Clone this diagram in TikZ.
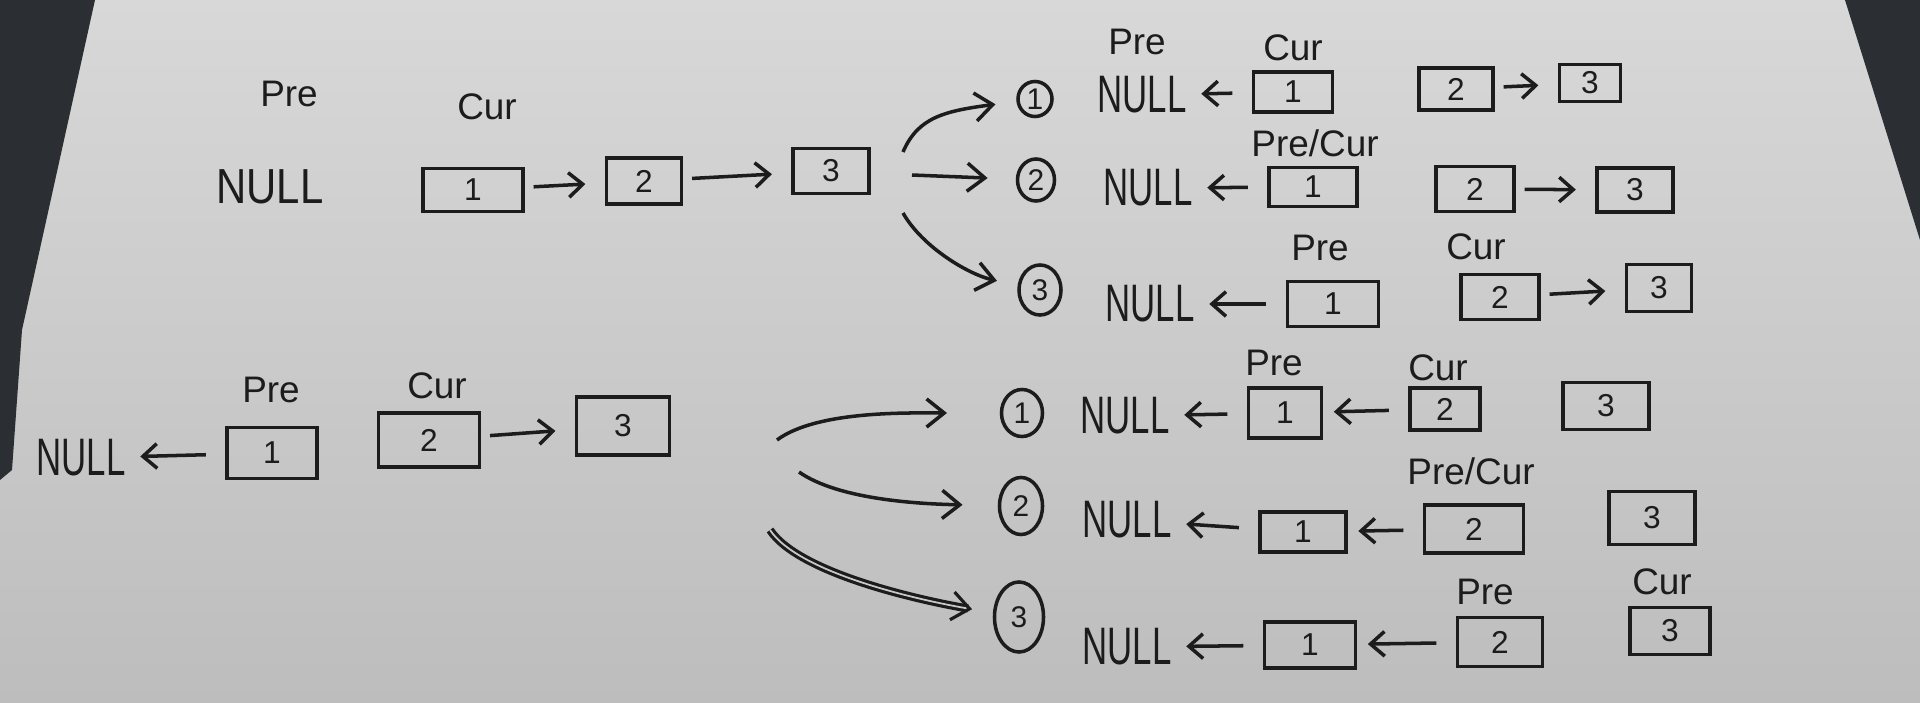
\documentclass[tikz,border=0pt]{standalone}
\usepackage{fontspec}
\usepackage{tikz}
\usetikzlibrary{shapes.geometric, arrows.meta, positioning}
\setmainfont{Liberation Sans}
\newfontfamily\handnarrow[FakeStretch=0.66]{Liberation Sans}
\newfontfamily\handwide[FakeStretch=0.85]{Liberation Sans}
\definecolor{myink}{HTML}{1C1C1C}
\definecolor{mypaper}{HTML}{D8D8D8}
\definecolor{mypaperdark}{HTML}{BDBDBD}
\definecolor{mydesk}{HTML}{2B2E33}
\tikzstyle{arrow} = [line width=1pt, draw=myink, -{Straight Barb[length=4pt, width=7pt]}, shorten <=2.5pt, shorten >=5.5pt]
\tikzstyle{backarrow} = [line width=1pt, draw=myink, -{Straight Barb[length=4pt, width=7pt]}, shorten <=5.5pt, shorten >=3pt]
\tikzstyle{bendarrow} = [line width=1pt, draw=myink, -{Straight Barb[length=5pt, width=8pt]}]
\tikzstyle{lbl} = [inner sep=1pt, text=myink, font=\fontsize{10.5}{12}\selectfont]
\tikzstyle{nullnode} = [inner sep=1pt, text=myink, font=\handnarrow\fontsize{15}{15}\selectfont]

\begin{document}
\begin{tikzpicture}[x=0.01cm, y=-0.01cm, box/.style 2 args={draw=myink, line width=1pt, minimum width=#1cm, minimum height=#2cm, inner sep=0pt, text=myink, font=\fontsize{9}{9}\selectfont}, stepnum/.style 2 args={ellipse, draw=myink, line width=1pt, minimum width=#1cm, minimum height=#2cm, inner sep=0pt, text=myink, font=\fontsize{8.5}{8.5}\selectfont}]
    \useasboundingbox (0,0) rectangle (1920,703);
    \shade[top color=mypaper, bottom color=mypaperdark] (0,0) rectangle (1920,703);
    \fill[mydesk] (0,0) -- (95,0) -- (22,330) -- (12,470) -- (0,480) -- cycle;
    \fill[mydesk] (1845,0) -- (1920,0) -- (1920,240) -- cycle;

    \node[lbl] (tlpre) at (289,94) {Pre};
    \node[lbl] (tlcur) at (487,107) {Cur};
    \node[nullnode, font=\handwide\fontsize{14}{14}\selectfont] (tlnull) at (270,187) {NULL};
    \node[box={1.0}{0.43}] (tl1) at (473,190) {1};
    \node[box={0.75}{0.46}] (tl2) at (644,181) {2};
    \node[box={0.76}{0.45}] (tl3) at (831,171) {3};
    \draw[arrow] (tl1) -- (tl2); \draw[arrow] (tl2) -- (tl3);
    \coordinate (tla) at (903,152); \coordinate (tlb) at (912,175); \coordinate (tlc) at (903,213);

    \node[stepnum={0.34}{0.35}] (c1) at (1035,99) {1};
    \node[lbl] (r1pre) at (1137,42) {Pre};
    \node[lbl] (r1cur) at (1293,48) {Cur};
    \node[nullnode] (r1null) at (1142,95) {NULL};
    \node[box={0.79}{0.40}] (r1b1) at (1293,92) {1};
    \node[box={0.74}{0.42}] (r1b2) at (1456,89) {2};
    \node[box={0.61}{0.37}] (r1b3) at (1590,83) {3};
    \draw[backarrow] (r1b1) -- (r1null); \draw[arrow] (r1b2) -- (r1b3);

    \node[stepnum={0.37}{0.42}] (c2) at (1036,180) {2};
    \node[lbl] (r2pc) at (1315,143) {Pre/Cur};
    \node[nullnode] (r2null) at (1148,188) {NULL};
    \node[box={0.88}{0.39}] (r2b1) at (1313,187) {1};
    \node[box={0.78}{0.45}] (r2b2) at (1475,189) {2};
    \node[box={0.76}{0.44}] (r2b3) at (1635,190) {3};
    \draw[backarrow] (r2b1) -- (r2null); \draw[arrow] (r2b2) -- (r2b3);

    \node[stepnum={0.42}{0.50}] (c3) at (1040,290) {3};
    \node[lbl] (r3pre) at (1320,248) {Pre};
    \node[lbl] (r3cur) at (1476,247) {Cur};
    \node[nullnode] (r3null) at (1150,304) {NULL};
    \node[box={0.91}{0.45}] (r3b1) at (1333,304) {1};
    \node[box={0.78}{0.45}] (r3b2) at (1500,297) {2};
    \node[box={0.65}{0.47}] (r3b3) at (1659,288) {3};
    \draw[backarrow] (r3b1) -- (r3null); \draw[arrow] (r3b2) -- (r3b3);

    \draw[bendarrow, shorten >=6pt] (tla) .. controls +(15,-35) and +(-90,12) .. (c1);
    \draw[bendarrow, shorten >=8pt] (tlb) -- (c2);
    \draw[bendarrow, shorten >=6pt] (tlc) .. controls +(20,35) and +(-70,-15) .. (c3);

    \node[lbl] (blpre) at (271,390) {Pre};
    \node[lbl] (blcur) at (437,386) {Cur};
    \node[nullnode] (blnull) at (81,458) {NULL};
    \node[box={0.90}{0.51}] (bl1) at (272,453) {1};
    \node[box={1.01}{0.54}] (bl2) at (429,440) {2};
    \node[box={0.93}{0.58}] (bl3) at (623,426) {3};
    \draw[backarrow] (bl1) -- (blnull); \draw[arrow] (bl2) -- (bl3);
    \coordinate (bla) at (777,440); \coordinate (blb) at (799,472); \coordinate (blc) at (770,530);

    \node[stepnum={0.41}{0.47}] (d1) at (1022,413) {1};
    \node[lbl] (s1pre) at (1274,363) {Pre};
    \node[lbl] (s1cur) at (1438,368) {Cur};
    \node[nullnode] (s1null) at (1125,416) {NULL};
    \node[box={0.73}{0.50}] (s1b1) at (1285,413) {1};
    \node[box={0.70}{0.42}] (s1b2) at (1445,409) {2};
    \node[box={0.86}{0.47}] (s1b3) at (1606,406) {3};
    \draw[backarrow] (s1b1) -- (s1null); \draw[backarrow] (s1b2) -- (s1b1);

    \node[stepnum={0.43}{0.57}] (d2) at (1021,506) {2};
    \node[lbl] (s2pc) at (1471,471) {Pre/Cur};
    \node[nullnode] (s2null) at (1127,520) {NULL};
    \node[box={0.86}{0.40}] (s2b1) at (1303,532) {1};
    \node[box={0.99}{0.48}] (s2b2) at (1474,529) {2};
    \node[box={0.86}{0.53}] (s2b3) at (1652,518) {3};
    \draw[backarrow] (s2b1) -- (s2null); \draw[backarrow] (s2b2) -- (s2b1);

    \node[stepnum={0.49}{0.70}] (d3) at (1019,617) {3};
    \node[lbl] (s3pre) at (1485,592) {Pre};
    \node[lbl] (s3cur) at (1662,582) {Cur};
    \node[nullnode] (s3null) at (1127,647) {NULL};
    \node[box={0.91}{0.46}] (s3b1) at (1310,645) {1};
    \node[box={0.85}{0.49}] (s3b2) at (1500,642) {2};
    \node[box={0.80}{0.47}] (s3b3) at (1670,631) {3};
    \draw[backarrow] (s3b1) -- (s3null); \draw[backarrow] (s3b2) -- (s3b1);

    \draw[bendarrow, shorten >=15pt] (bla) .. controls +(40,-30) and +(-110,0) .. (d1);
    \draw[bendarrow, shorten >=10pt] (blb) .. controls +(40,28) and +(-100,-2) .. (d2);
    \draw[bendarrow, line width=0.9pt, double=mypaper!40!mypaperdark, double distance=0.5pt, shorten >=6pt] (blc) .. controls +(30,45) and +(-90,-15) .. (d3);
\end{tikzpicture}
\end{document}
